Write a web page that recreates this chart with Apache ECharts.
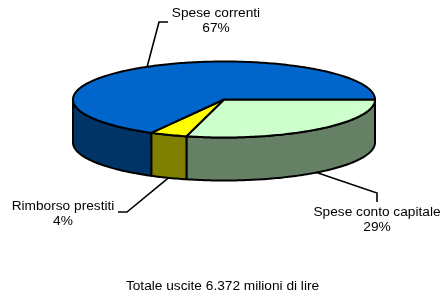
<!DOCTYPE html>
<html>
<head>
<meta charset="utf-8">
<script src="https://cdn.jsdelivr.net/npm/echarts@6/dist/echarts.min.js"></script>
<style>
html, body { margin: 0; padding: 0; background: #fff; }
#chart { width: 445px; height: 293px; }
</style>
</head>
<body>
<div id="chart"></div>
<script>
// dati del grafico
var categories = ['Spese conto capitale', 'Rimborso prestiti', 'Spese correnti'];
var values = [29, 4, 67];
var footer = 'Totale uscite 6.372 milioni di lire';

var topColors = ['#CCFFCC', '#FFFF00', '#0066CC'];
var sideColors = ['#668066', '#808000', '#003366'];

// posizione etichette e linee guida (pixel)
var labelLayout = [
    {text: [377, 220], elbow: [377, 193], end: [377, 202]},
    {text: [63, 214], elbow: [127, 212], end: [118, 212]},
    {text: [216, 21], elbow: [159, 22], end: [168, 22]}
];

var font = 'Liberation Sans, Arial, sans-serif';
var myChart = echarts.init(document.getElementById('chart'));

var total = values.reduce(function (a, b) { return a + b; }, 0);
var geo = {cx: 224, cy: 99.5, rx: 151, ry: 38, depth: 43};

function pt(t, dy) {
    return [geo.cx + geo.rx * Math.cos(t), geo.cy + geo.ry * Math.sin(t) + (dy || 0)];
}

function arc(a, b, dy) {
    var pts = [];
    var n = Math.max(2, Math.ceil((b - a) / (Math.PI / 180)));
    for (var i = 0; i <= n; i++) {
        pts.push(pt(a + (b - a) * i / n, dy));
    }
    return pts;
}

function renderItem(params, api) {
    var idx = params.dataIndex;
    var before = 0;
    for (var i = 0; i < idx; i++) before += values[i];
    var a = before / total * Math.PI * 2;
    var b = (before + api.value(0)) / total * Math.PI * 2;
    var children = [];

    // parete laterale (solo la parte frontale)
    var sa = Math.max(a, 0), sb = Math.min(b, Math.PI);
    if (sb > sa) {
        var side = arc(sa, sb, 0).concat(arc(sa, sb, geo.depth).reverse());
        children.push({
            type: 'polygon',
            z2: 1,
            shape: {points: side},
            style: {fill: sideColors[idx], stroke: '#000', lineWidth: 2, lineJoin: 'round'}
        });
    }

    // faccia superiore
    var top = [[geo.cx, geo.cy]].concat(arc(a, b, 0));
    children.push({
        type: 'polygon',
        z2: 2,
        shape: {points: top},
        style: {fill: topColors[idx], stroke: '#000', lineWidth: 2, lineJoin: 'round'}
    });

    // linea guida dal bordo della fetta
    var mid = (a + b) / 2;
    var front = Math.sin(mid) > 0;
    var anchor = pt(mid, front ? geo.depth : 0);
    var lay = labelLayout[idx];
    children.push({
        type: 'polyline',
        z2: 3,
        shape: {points: [anchor, lay.elbow, lay.end]},
        style: {stroke: '#000', lineWidth: 1.6, fill: null}
    });

    var pct = Math.round(api.value(0) / total * 100) + '%';
    children.push({
        type: 'text',
        z2: 4,
        x: lay.text[0],
        y: lay.text[1],
        style: {
            text: categories[idx] + '\n' + pct,
            fill: '#000',
            font: '13.7px ' + font,
            align: 'center',
            verticalAlign: 'middle',
            lineHeight: 15
        }
    });

    return {type: 'group', children: children};
}

var option = {
    backgroundColor: '#fff',
    animation: false,
    title: {
        text: footer,
        left: 'center',
        top: 274,
        textStyle: {fontSize: 13.7, fontWeight: 'normal', color: '#000', fontFamily: font}
    },
    series: [{
        type: 'custom',
        coordinateSystem: 'none',
        renderItem: renderItem,
        data: values.map(function (v) { return [v]; })
    }]
};

myChart.setOption(option);
</script>
</body>
</html>
